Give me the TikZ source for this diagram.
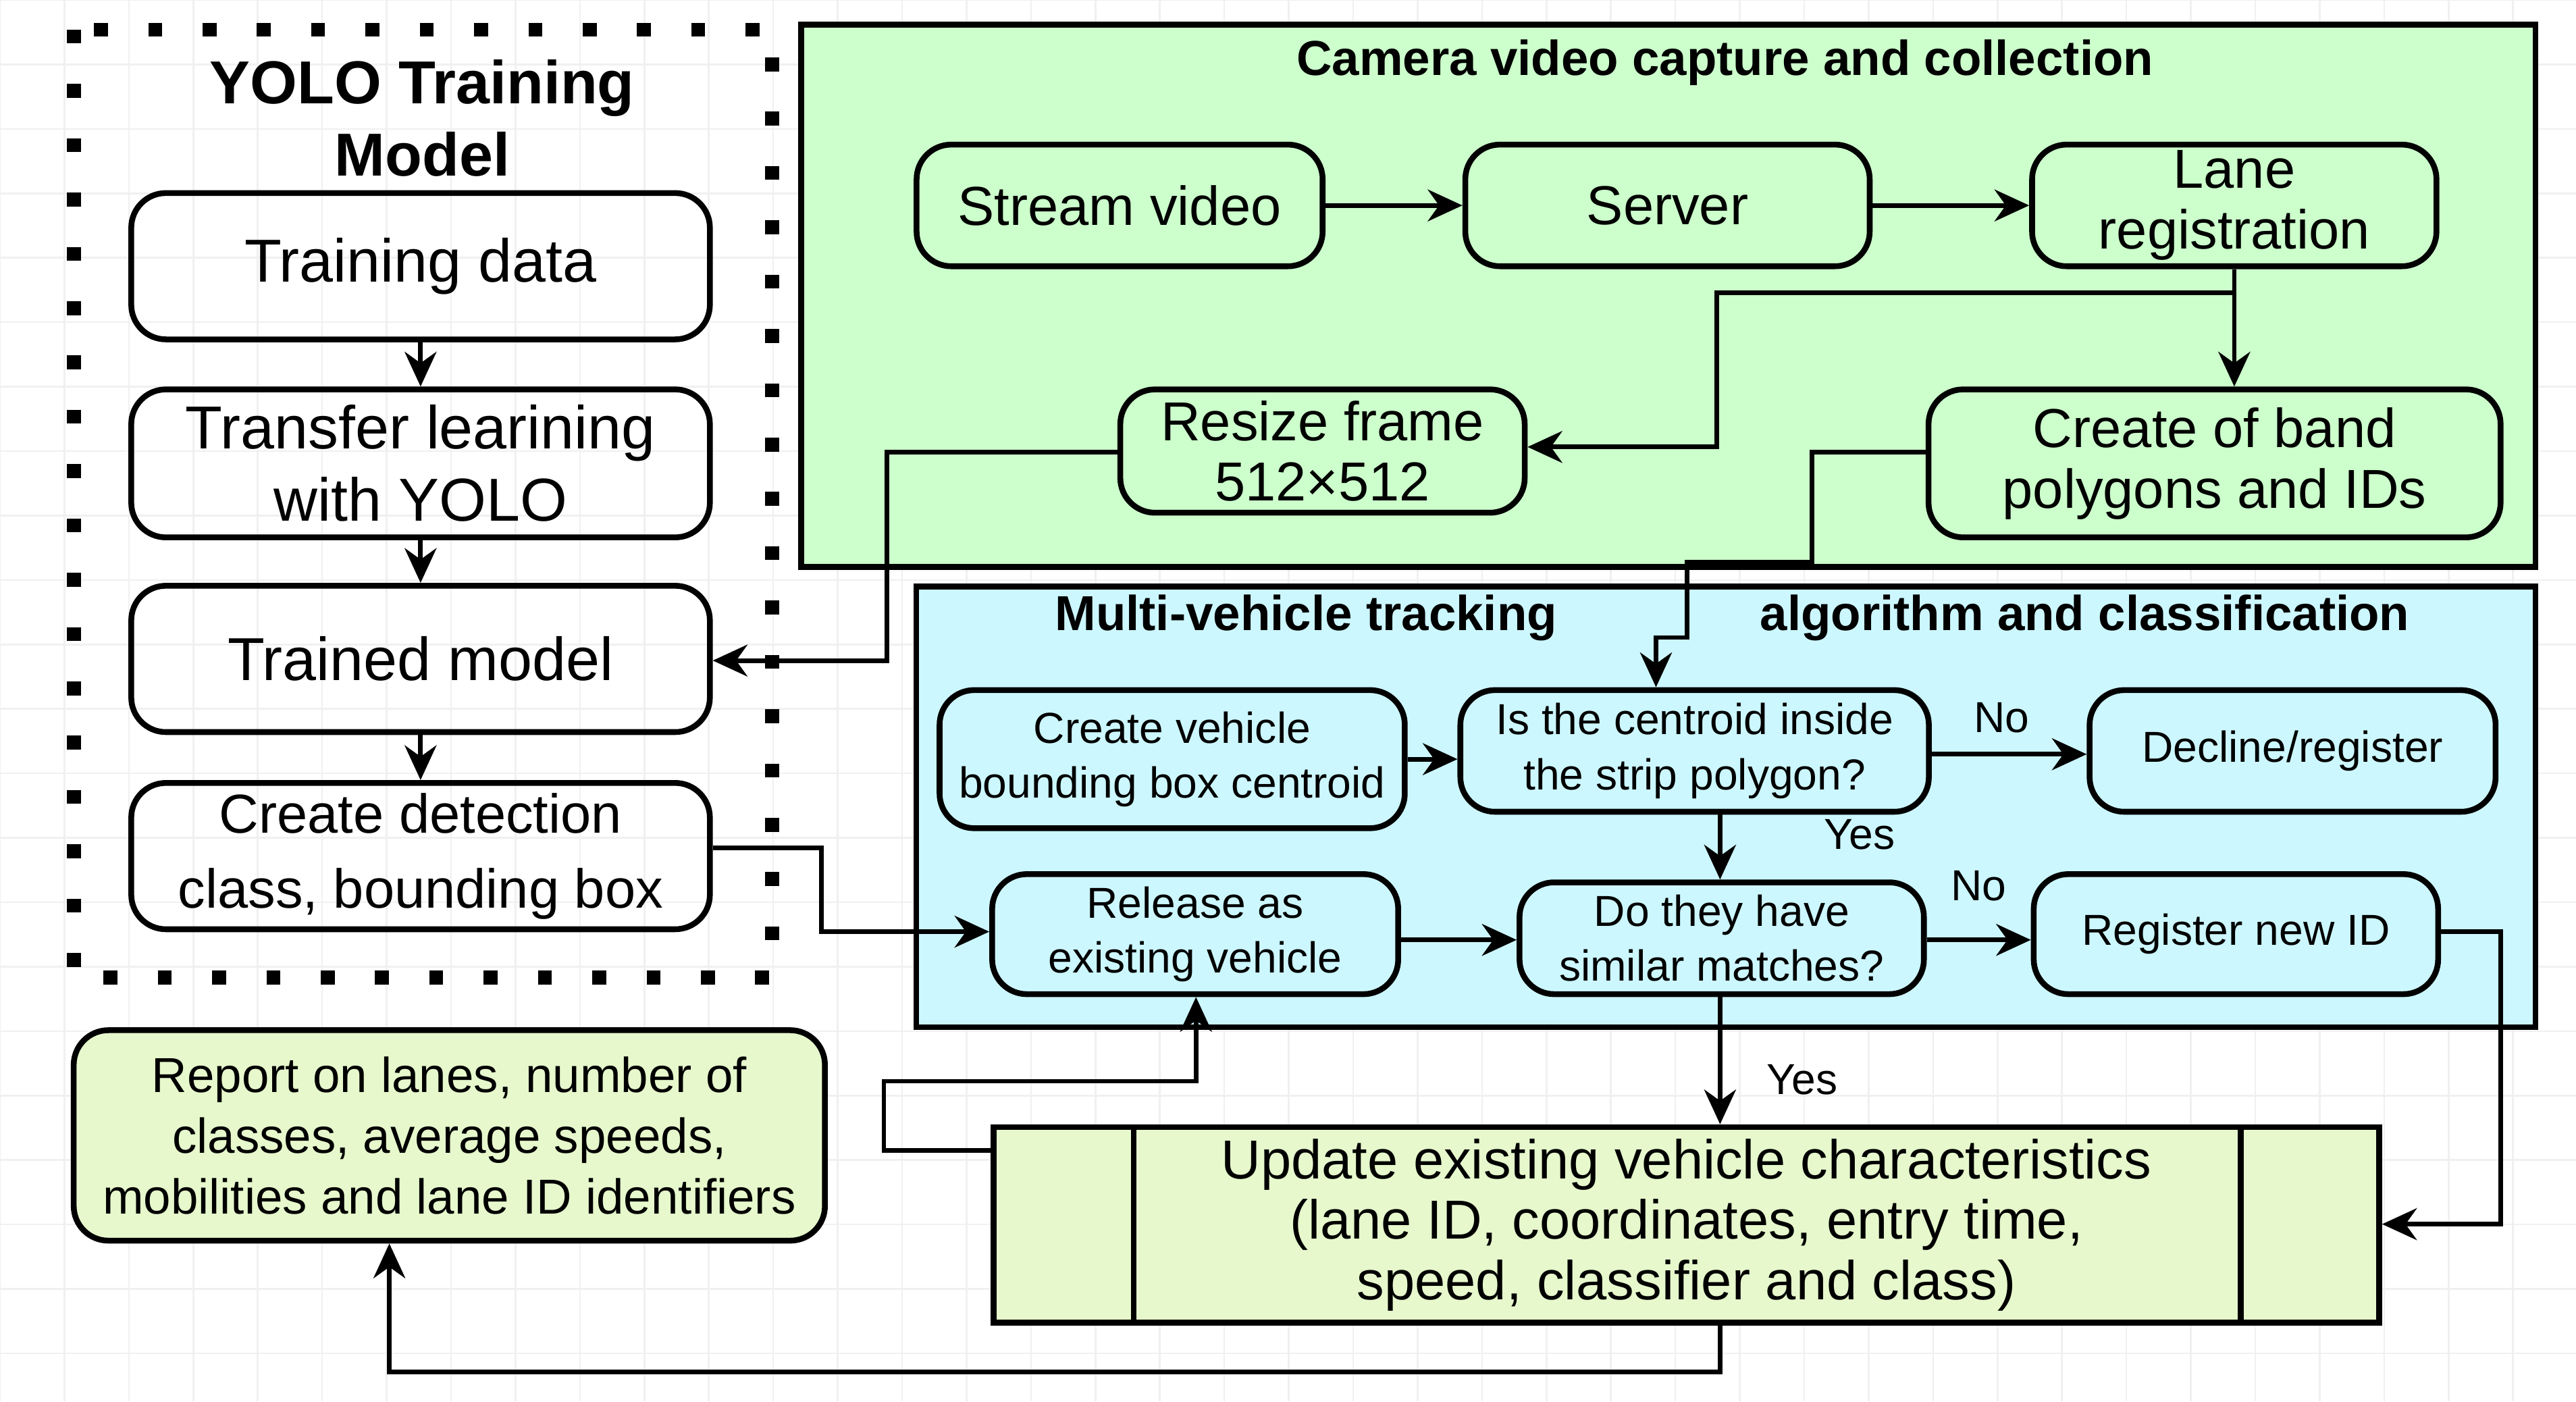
\documentclass[tikz,border=0pt]{standalone}
\usepackage{fontspec}
\setmainfont{Liberation Sans}
\usetikzlibrary{arrows.meta}
\definecolor{gbox}{HTML}{CCFFCC}
\definecolor{bbox}{HTML}{CCF7FF}
\definecolor{ybox}{HTML}{E6F8CC}
\begin{document}
\begin{tikzpicture}[x=0.01cm,y=-0.01cm,
  box/.style={draw,line width=1pt,rounded corners=6pt,align=center,inner sep=0pt},
  big/.style={box,font=\fontsize{9.5}{10.5}\selectfont},
  yb/.style={box,font=\fontsize{10.5}{12.5}\selectfont},
  sm/.style={box,font=\fontsize{7.5}{9.5}\selectfont},
  ar/.style={line width=0.8pt,-{Stealth[length=6pt,width=5.5pt]}},
  lab/.style={font=\fontsize{7.5}{9}\selectfont},
  ttl/.style={font=\bfseries\fontsize{8.5}{10}\selectfont}]
\useasboundingbox (0,0) rectangle (1568,853);
\fill[white] (0,0) rectangle (1568,853);
\draw[gray!12,line width=0.3pt,step=0.392cm] (0,0) grid (1568,853);
% YOLO
\draw[line width=2.4pt,dash pattern=on 2.4pt off 7pt] (45,18) rectangle (470,595);
\node[ttl,font=\bfseries\fontsize{10.5}{12.5}\selectfont,align=center] (yt) at (257,72) {YOLO Training\\Model};
\node[yb,minimum width=3.52cm,minimum height=0.89cm] (td) at (256,162) {Training data};
\node[yb,minimum width=3.52cm,minimum height=0.90cm] (tl) at (256,282) {Transfer learining\\with YOLO};
\node[yb,minimum width=3.52cm,minimum height=0.89cm] (tm) at (256,401) {Trained model};
\node[yb,minimum width=3.52cm,minimum height=0.89cm,font=\fontsize{9.5}{13}\selectfont] (cd) at (256,521) {Create detection\\class, bounding box};
% green
\node[draw,line width=1pt,fill=gbox,minimum width=10.55cm,minimum height=3.30cm,inner sep=0pt] (gb) at (1015.5,180) {};
\node[ttl] (gt) at (1050,38) {Camera video capture and collection};
\node[big,fill=gbox,minimum width=2.47cm,minimum height=0.74cm] (sv) at (681.5,125) {Stream video};
\node[big,fill=gbox,minimum width=2.46cm,minimum height=0.74cm] (se) at (1015,125) {Server};
\node[big,fill=gbox,minimum width=2.46cm,minimum height=0.74cm] (lr) at (1360,125) {Lane\\registration};
\node[big,fill=gbox,minimum width=2.46cm,minimum height=0.75cm] (rf) at (805,274.5) {Resize frame\\512×512};
\node[big,fill=gbox,minimum width=3.48cm,minimum height=0.90cm] (cb) at (1348,282) {Create of band\\polygons and IDs};
% blue
\node[draw,line width=1pt,fill=bbox,minimum width=9.85cm,minimum height=2.68cm,inner sep=0pt] (bb) at (1050.5,491) {};
\node[ttl] (bt1) at (795,376) {Multi-vehicle tracking};
\node[ttl] (bt2) at (1269,376) {algorithm and classification};
\node[sm,fill=bbox,minimum width=2.83cm,minimum height=0.84cm] (cv) at (713.5,462) {Create vehicle\\bounding box centroid};
\node[sm,fill=bbox,minimum width=2.85cm,minimum height=0.74cm] (ic) at (1031.5,457) {Is the centroid inside\\the strip polygon?};
\node[sm,fill=bbox,minimum width=2.47cm,minimum height=0.74cm] (dr) at (1395.5,457) {Decline/register};
\node[sm,fill=bbox,minimum width=2.47cm,minimum height=0.73cm] (re) at (727.5,568.5) {Release as\\existing vehicle};
\node[sm,fill=bbox,minimum width=2.46cm,minimum height=0.68cm] (dt) at (1048,571) {Do they have\\similar matches?};
\node[sm,fill=bbox,minimum width=2.46cm,minimum height=0.73cm] (rn) at (1361,568.5) {Register new ID};
% bottom
\node[box,fill=ybox,font=\fontsize{8.5}{10.5}\selectfont,minimum width=4.57cm,minimum height=1.28cm] (rp) at (273.5,691) {Report on lanes, number of\\classes, average speeds,\\mobilities and lane ID identifiers};
\node[draw,line width=1pt,fill=ybox,minimum width=8.43cm,minimum height=1.19cm,inner sep=0pt,align=center,font=\fontsize{9.5}{10.5}\selectfont] (up) at (1026.5,745.5) {Update existing vehicle characteristics\\(lane ID, coordinates, entry time,\\speed, classifier and class)};
\draw[line width=1pt] (690,686) -- (690,805) (1364,686) -- (1364,805);
% arrows
\draw[ar] (td) -- (tl);
\draw[ar] (tl) -- (tm);
\draw[ar] (tm) -- (cd);
\draw[ar] (sv) -- (se);
\draw[ar] (se) -- (lr);
\draw[ar] (lr) -- (cb.north -| lr);
\coordinate (j1) at (1360,178);
\draw[ar] (j1) -- (1045,178) -- (1045,272) -- (rf.east |- 0,272);
\draw[ar] (rf.west |- 0,275) -- (540,275) -- (540,402) -- (tm.east |- 0,402);
\draw[ar] (cb.west |- 0,275) -- (1103,275) -- (1103,342) -- (1027,342) -- (1027,388) -- (1008,388) -- (ic.north -| 1008,0);
\draw[ar] (cv.east |- 0,462) -- (ic.west |- 0,462);
\draw[ar] (ic.east |- 0,459) -- (dr.west |- 0,459) node[lab,pos=0.45,above] {No};
\draw[ar] (ic.south -| 1047,0) -- (dt.north -| 1047,0);
\node[lab] (y1) at (1132,508) {Yes};
\draw[ar] (re.east |- 0,572) -- (dt.west |- 0,572);
\draw[ar] (dt.east |- 0,572) -- (rn.west |- 0,572) node[lab,pos=0.5,above=3pt] {No};
\draw[ar] (dt.south -| 1047,0) -- (up.north -| 1047,0);
\node[lab] (y2) at (1097,657) {Yes};
\draw[ar] (rn.east |- 0,567) -- (1522,567) -- (1522,745) -- (up.east |- 0,745);
\draw[ar] (up.west |- 0,700) -- (538,700) -- (538,658) -- (728,658) -- (re.south -| 728,0);
\draw[ar] (up.south -| 1047,0) -- (1047,835) -- (237,835) -- (rp.south -| 237,0);
\draw[ar] (cd.east |- 0,516) -- (500,516) -- (500,567) -- (re.west |- 0,567);
\end{tikzpicture}
\end{document}
